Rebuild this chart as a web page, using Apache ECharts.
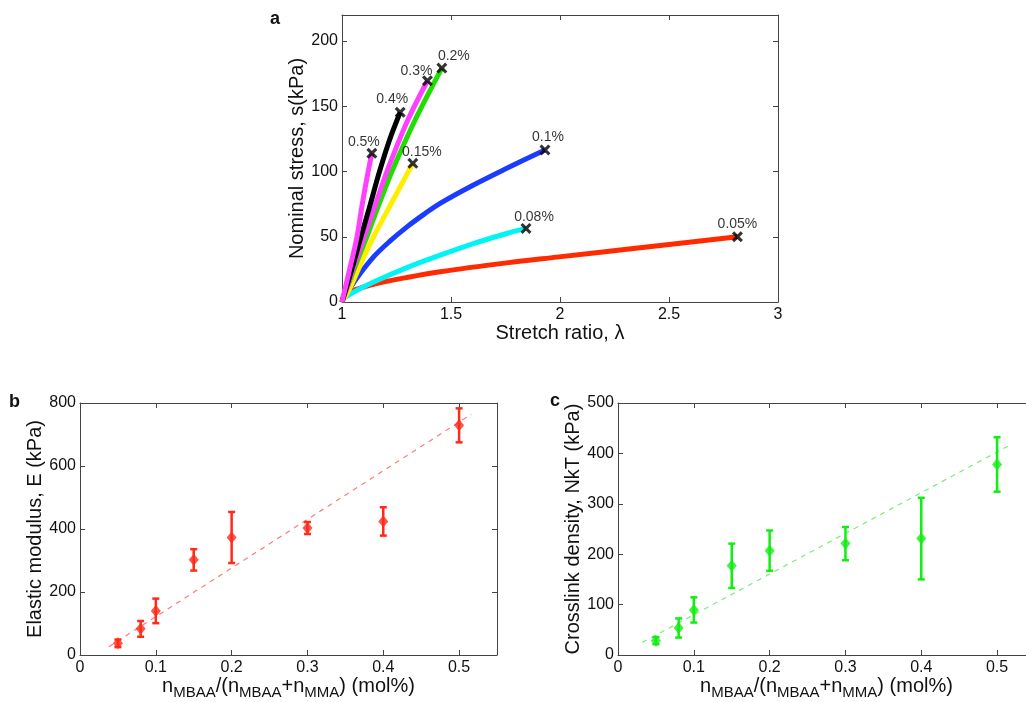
<!DOCTYPE html>
<html><head><meta charset="utf-8">
<script src="https://cdn.jsdelivr.net/npm/echarts@6/dist/echarts.min.js"></script>
<style>html,body{margin:0;padding:0;background:#fff}#c{width:1026px;height:702px}</style>
</head><body><div id="c"></div>
<script>
// ---------- Panel a: stress-stretch curves ----------
const concLabels = ['0.05%', '0.08%', '0.1%', '0.15%', '0.2%', '0.3%', '0.4%', '0.5%'];
const lambda005 = [1.003, 1.015, 1.069, 1.145, 1.298, 1.450, 1.756, 1.985, 2.367, 2.814];
const stress005 = [3.5, 6.4, 9.8, 13.6, 18.8, 23.2, 30.0, 34.4, 41.6, 50.0];
const lambda008 = [1.0, 1.007, 1.069, 1.145, 1.298, 1.450, 1.603, 1.756, 1.844];
const stress008 = [0, 2.6, 9.0, 15.4, 26.4, 35.9, 44.8, 52.5, 56.4];
const lambda010 = [1.0, 1.007, 1.069, 1.145, 1.221, 1.298, 1.374, 1.450, 1.603, 1.756, 1.931];
const stress010 = [0, 2.6, 18.5, 34.6, 46.8, 57.6, 67.0, 75.6, 89.7, 102.5, 116.6];
const lambda015 = [1.0, 1.035, 1.096, 1.145, 1.221, 1.325];
const stress015 = [0, 10, 33, 50, 74, 106.3];
const lambda020 = [1.0, 1.055, 1.114, 1.17, 1.229, 1.331, 1.458];
const stress020 = [0, 25, 50, 75, 100, 138, 179.3];
const lambda030 = [1.0, 1.05, 1.102, 1.154, 1.206, 1.298, 1.392];
const stress030 = [0, 25, 50, 75, 100, 138, 169.6];
const lambda040 = [1.0, 1.045, 1.087, 1.13, 1.172, 1.221, 1.267];
const stress040 = [0, 25, 50, 75, 100, 125.6, 145.5];
const lambda050 = [1.0, 1.035, 1.069, 1.092, 1.12, 1.137];
const stress050 = [0, 25, 50, 74, 100, 114];

// ---------- Panels b, c ----------
const molPct = [0.05, 0.08, 0.10, 0.15, 0.20, 0.30, 0.40, 0.50];
const modulusE = [37, 83, 140, 302, 373, 403, 424, 729];
const modulusErr = [12, 25, 39, 34, 81, 19, 45, 54];
const crosslinkNkT = [28.5, 53.6, 89.4, 177, 207, 221, 231, 378];
const crosslinkErr = [7, 19, 25, 44, 40, 33, 81, 54];
const fitEx = [0.038, 0.516];
const fitEy = [26, 764];
const fitNx = [0.032, 0.517];
const fitNy = [25, 416.5];

const FONT = 'Liberation Sans, Arial, Helvetica, sans-serif';
const AX = '#444';

const curves = [
  [lambda005, stress005, '#ff2a00'],
  [lambda008, stress008, '#00f4f4'],
  [lambda010, stress010, '#1a3cff'],
  [lambda015, stress015, '#ffee00'],
  [lambda020, stress020, '#22dd00'],
  [lambda030, stress030, '#ff40ff'],
  [lambda040, stress040, '#000000'],
  [lambda050, stress050, '#ff40ff']
];
const labelOffsets = [[0,-13],[8,-11],[3,-13],[9,-11],[12,-12],[-11,-10],[-8,-13],[-8,-11]];

function zip(a, b) { return a.map((v, i) => [v, b[i]]); }
function isMult(max, interval) { return Math.abs(max / interval - Math.round(max / interval)) < 1e-9; }

function mkX(gi, min, max, interval, name, nameGap, nameStyle) {
  const base = {
    type: 'value', gridIndex: gi, min, max, interval,
    axisLine: { show: true, onZero: false, lineStyle: { color: AX, width: 1 } },
    axisTick: { show: true, inside: true, length: 5, lineStyle: { color: AX } },
    splitLine: { show: false }
  };
  return [
    Object.assign({}, base, {
      position: 'bottom',
      axisLabel: { margin: 5, fontSize: 16, color: '#111', fontFamily: FONT, showMaxLabel: isMult(max, interval) },
      name, nameLocation: 'middle', nameGap, nameTextStyle: nameStyle
    }),
    Object.assign({}, base, { position: 'top', axisLabel: { show: false } })
  ];
}
function mkY(gi, min, max, interval, name, nameGap) {
  const base = {
    type: 'value', gridIndex: gi, min, max, interval,
    axisLine: { show: true, onZero: false, lineStyle: { color: AX, width: 1 } },
    axisTick: { show: true, inside: true, length: 5, lineStyle: { color: AX } },
    splitLine: { show: false }
  };
  return [
    Object.assign({}, base, {
      position: 'left',
      axisLabel: { margin: 4, fontSize: 16, color: '#111', fontFamily: FONT, showMaxLabel: isMult(max, interval) },
      name, nameLocation: 'middle', nameGap,
      nameTextStyle: { fontSize: 20, color: '#111', fontFamily: FONT }
    }),
    Object.assign({}, base, { position: 'right', axisLabel: { show: false } })
  ];
}

const molName = '{n|n}{s|MBAA}{n|/(n}{s|MBAA}{n|+n}{s|MMA}{n|) (mol%)}';
const molStyle = {
  fontFamily: FONT, color: '#111',
  rich: {
    n: { fontSize: 20, lineHeight: 26, verticalAlign: 'middle', fontFamily: FONT, color: '#111' },
    s: { fontSize: 15, lineHeight: 12, verticalAlign: 'bottom', fontFamily: FONT, color: '#111' }
  }
};

const xAxes = [
  ...mkX(0, 1, 3, 0.5, 'Stretch ratio, λ', 11, { fontSize: 20, color: '#111', fontFamily: FONT }),
  ...mkX(1, 0, 0.55, 0.1, molName, 13, molStyle),
  ...mkX(2, 0, 0.55, 0.1, molName, 13, molStyle)
];
const yAxes = [
  ...mkY(0, 0, 220, 50, 'Nominal stress, s(kPa)', 34),
  ...mkY(1, 0, 800, 200, 'Elastic modulus, E (kPa)', 32),
  ...mkY(2, 0, 500, 100, 'Crosslink density, NkT (kPa)', 29)
];

const series = [];
curves.forEach((c, i) => {
  series.push({
    type: 'line', xAxisIndex: 0, yAxisIndex: 0, data: zip(c[0], c[1]),
    smooth: 0.35, symbol: 'none', lineStyle: { color: c[2], width: 5 }, z: 2 + i
  });
});
const xPath = 'path://M0,2 L2,0 L5,3 L8,0 L10,2 L7,5 L10,8 L8,10 L5,7 L2,10 L0,8 L3,5 Z';
series.push({
  type: 'scatter', xAxisIndex: 0, yAxisIndex: 0, z: 20,
  symbol: xPath, symbolSize: 11, itemStyle: { color: '#000' },
  data: curves.map((c, i) => ({
    value: [c[0][c[0].length - 1], c[1][c[1].length - 1]],
    label: {
      show: true, formatter: concLabels[i], position: 'inside', offset: labelOffsets[i],
      fontSize: 14, color: '#000', fontFamily: FONT, textBorderWidth: 0
    }
  }))
});

function errSeries(gi, xs, ys, es, color) {
  return {
    type: 'custom', xAxisIndex: gi * 2, yAxisIndex: gi * 2, z: 5,
    data: xs.map((x, i) => [x, ys[i] - es[i], ys[i] + es[i]]),
    encode: { x: 0, y: [1, 2] },
    renderItem: function (params, api) {
      const x = api.value(0);
      const p1 = api.coord([x, api.value(2)]);
      const p2 = api.coord([x, api.value(1)]);
      const w = 3.5;
      const st = { stroke: color, lineWidth: 2.5 };
      return {
        type: 'group', children: [
          { type: 'line', shape: { x1: p1[0], y1: p1[1], x2: p2[0], y2: p2[1] }, style: st },
          { type: 'line', shape: { x1: p1[0] - w, y1: p1[1], x2: p1[0] + w, y2: p1[1] }, style: st },
          { type: 'line', shape: { x1: p2[0] - w, y1: p2[1], x2: p2[0] + w, y2: p2[1] }, style: st }
        ]
      };
    }
  };
}
// panel b
series.push({
  type: 'line', xAxisIndex: 2, yAxisIndex: 2, data: zip(fitEx, fitEy), symbol: 'none', z: 3,
  lineStyle: { color: '#ff7a7a', width: 1.2, type: [5, 5] }
});
series.push(errSeries(1, molPct, modulusE, modulusErr, '#ff2a1a'));
series.push({
  type: 'scatter', xAxisIndex: 2, yAxisIndex: 2, data: zip(molPct, modulusE), z: 6,
  symbol: 'diamond', symbolSize: [10, 12], itemStyle: { color: '#ff2a1a' }
});
// panel c
series.push({
  type: 'line', xAxisIndex: 4, yAxisIndex: 4, data: zip(fitNx, fitNy), symbol: 'none', z: 3,
  lineStyle: { color: '#77ee77', width: 1.2, type: [5, 5] }
});
series.push(errSeries(2, molPct, crosslinkNkT, crosslinkErr, '#11ee11'));
series.push({
  type: 'scatter', xAxisIndex: 4, yAxisIndex: 4, data: zip(molPct, crosslinkNkT), z: 6,
  symbol: 'diamond', symbolSize: [10, 12], itemStyle: { color: '#11ee11' }
});

const chart = echarts.init(document.getElementById('c'), null, { renderer: 'canvas' });
chart.setOption({
  animation: false,
  backgroundColor: '#fff',
  grid: [
    { left: 342, top: 15, width: 436, height: 287, outerBoundsMode: 'none' },
    { left: 80, top: 403, width: 417, height: 252, outerBoundsMode: 'none' },
    { left: 618, top: 403, width: 417, height: 252, outerBoundsMode: 'none' }
  ],
  xAxis: xAxes,
  yAxis: yAxes,
  series,
  graphic: [
    { type: 'text', left: 270, top: 10, style: { text: 'a', fontSize: 18, fontWeight: 'bold', fontFamily: FONT, fill: '#111' } },
    { type: 'text', left: 9, top: 393, style: { text: 'b', fontSize: 18, fontWeight: 'bold', fontFamily: FONT, fill: '#111' } },
    { type: 'text', left: 550, top: 392, style: { text: 'c', fontSize: 18, fontWeight: 'bold', fontFamily: FONT, fill: '#111' } }
  ]
});
</script></body></html>
